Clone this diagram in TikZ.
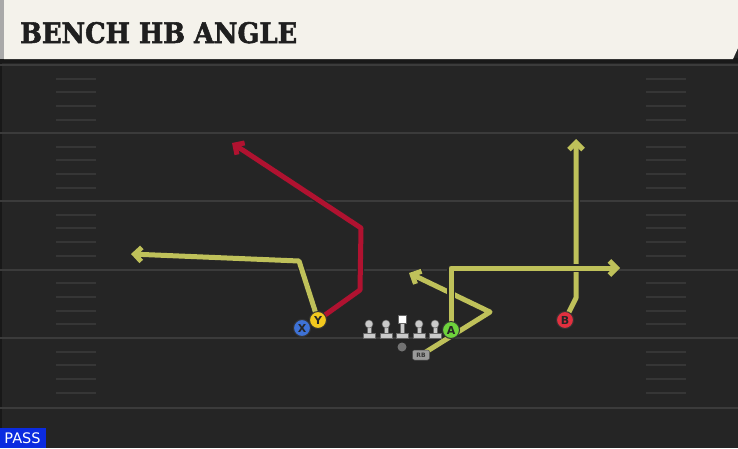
\documentclass[tikz,border=0pt]{standalone}
\usepackage{fontspec}
\setmainfont{DejaVu Sans}
\newfontfamily\titlefont[BoldFeatures={FakeBold=2}]{DejaVu Serif}
\usetikzlibrary{arrows.meta}
\definecolor{fieldbg}{HTML}{252525}
\definecolor{headbg}{HTML}{F4F2EB}
\definecolor{headstrip}{HTML}{A9A9A9}
\definecolor{yardline}{HTML}{3B3B3B}
\definecolor{hashc}{HTML}{363636}
\definecolor{routey}{HTML}{BFC15A}
\definecolor{router}{HTML}{B01230}
\definecolor{plx}{HTML}{3E72D6}
\definecolor{ply}{HTML}{F2C81E}
\definecolor{pla}{HTML}{6ED23C}
\definecolor{plb}{HTML}{E2303F}
\definecolor{passblue}{HTML}{0B2BE0}
\definecolor{olc}{HTML}{CACACA}
\tikzset{
  yard/.style={draw=yardline, line width=2pt},
  hashm/.style={draw=hashc, line width=2pt},
  rtout/.style={draw=black!85, line width=7.5pt, line join=round, -{Straight Barb[length=7pt,width=14pt]}},
  rtin/.style={line width=5pt, line join=round, -{Straight Barb[length=7pt,width=14pt]}},
  player/.style={circle, draw=black!80, line width=1pt, minimum size=17pt, inner sep=0pt, font=\fontsize{11}{11}\selectfont\bfseries, text=black!85},
  lman/.pic={
    \fill[olc, draw=black!60, line width=0.5pt] (-2,-4) rectangle (2,4);
    \fill[olc, draw=black!60, line width=0.5pt] (-6,3) rectangle (6,8);
    \fill[olc, draw=black!60, line width=0.5pt] (0,-6) circle (4);
  },
  cman/.pic={
    \fill[olc, draw=black!60, line width=0.5pt] (-2,-7) rectangle (2,4);
    \fill[olc, draw=black!60, line width=0.5pt] (-6,3) rectangle (6,8);
    \fill[white, draw=black!60, line width=0.5pt] (-4,-15) rectangle (4,-7);
  }
}
\begin{document}
\begin{tikzpicture}[x=1pt,y=-1pt]
\useasboundingbox (0,0) rectangle (738,448);
\fill[fieldbg] (0,0) rectangle (738,448);
\fill[black!35!fieldbg] (0,0) rectangle (2,448);
% yard lines
\foreach \yy in {65,133,201,269.5,338,407.5} {
  \draw[yard] (0,\yy) -- (738,\yy);
}
% hash marks
\foreach \yy in {65,133,201,269.5,338} {
  \foreach \k in {1,2,3,4} {
    \draw[hashm] (56,\yy+13.7*\k) -- (96,\yy+13.7*\k);
    \draw[hashm] (646,\yy+13.7*\k) -- (686,\yy+13.7*\k);
  }
}
% header
\fill[black!90] (0,58) rectangle (738,63);
\fill[headbg] (4,0) -- (738,0) -- (738,48) -- (733,59) -- (4,59) -- cycle;
\fill[headstrip] (0,0) rectangle (4,59);
\node[anchor=base west, inner sep=0pt, text=black!88] (title) at (20,43)
  {\resizebox{277pt}{21pt}{\titlefont\bfseries BENCH HB ANGLE}};
% player positions
\coordinate (Xc) at (302,328);
\coordinate (Yc) at (318,320);
\coordinate (Ac) at (451,330);
\coordinate (Bc) at (565,320);
\coordinate (RBc) at (421,355);
% route corners
\coordinate (y1) at (299,261);
\coordinate (y2) at (131,254);
\coordinate (r1) at (360,290);
\coordinate (r2) at (361,228);
\coordinate (r3) at (232,143);
\coordinate (a1) at (451,268);
\coordinate (a2) at (620,268);
\coordinate (h1) at (490,312);
\coordinate (h2) at (409,273);
\coordinate (b1) at (576,298);
\coordinate (b2) at (576,139);
% routes (outline then colour)
\draw[rtout] (Yc) -- (y1) -- (y2);
\draw[rtin, draw=routey] (Yc) -- (y1) -- (y2);
\draw[rtout] (Yc) -- (r1) -- (r2) -- (r3);
\draw[rtin, draw=router] (Yc) -- (r1) -- (r2) -- (r3);
\draw[rtout] (Bc) -- (b1) -- (b2);
\draw[rtin, draw=routey] (Bc) -- (b1) -- (b2);
\draw[rtout] (RBc) -- (h1) -- (h2);
\draw[rtin, draw=routey] (RBc) -- (h1) -- (h2);
\draw[rtout] (Ac) -- (a1) -- (a2);
\draw[rtin, draw=routey] (Ac) -- (a1) -- (a2);
% offensive line
\pic at (369,330) {lman};
\pic at (386,330) {lman};
\pic at (402,330) {cman};
\pic at (419,330) {lman};
\pic at (435,330) {lman};
% QB and RB
\node[circle, fill=black!55, minimum size=9pt, inner sep=0pt] (QB) at (402,347) {};
\node[rounded corners=2pt, fill=black!40, draw=black!70, line width=0.5pt, minimum width=17pt, minimum height=10pt, inner sep=0pt, font=\fontsize{6}{6}\selectfont\bfseries, text=black!80] (RB) at (RBc) {RB};
% players
\node[player, fill=plx] (X) at (Xc) {X};
\node[player, fill=ply] (Y) at (Yc) {Y};
\node[player, fill=pla] (A) at (Ac) {A};
\node[player, fill=plb] (B) at (Bc) {B};
% PASS label
\fill[passblue] (0,428) rectangle (46,448);
\node[text=white, inner sep=0pt, font=\fontsize{14.5}{14.5}\selectfont] (pass) at (22.5,438.5) {PASS};
\end{tikzpicture}
\end{document}
